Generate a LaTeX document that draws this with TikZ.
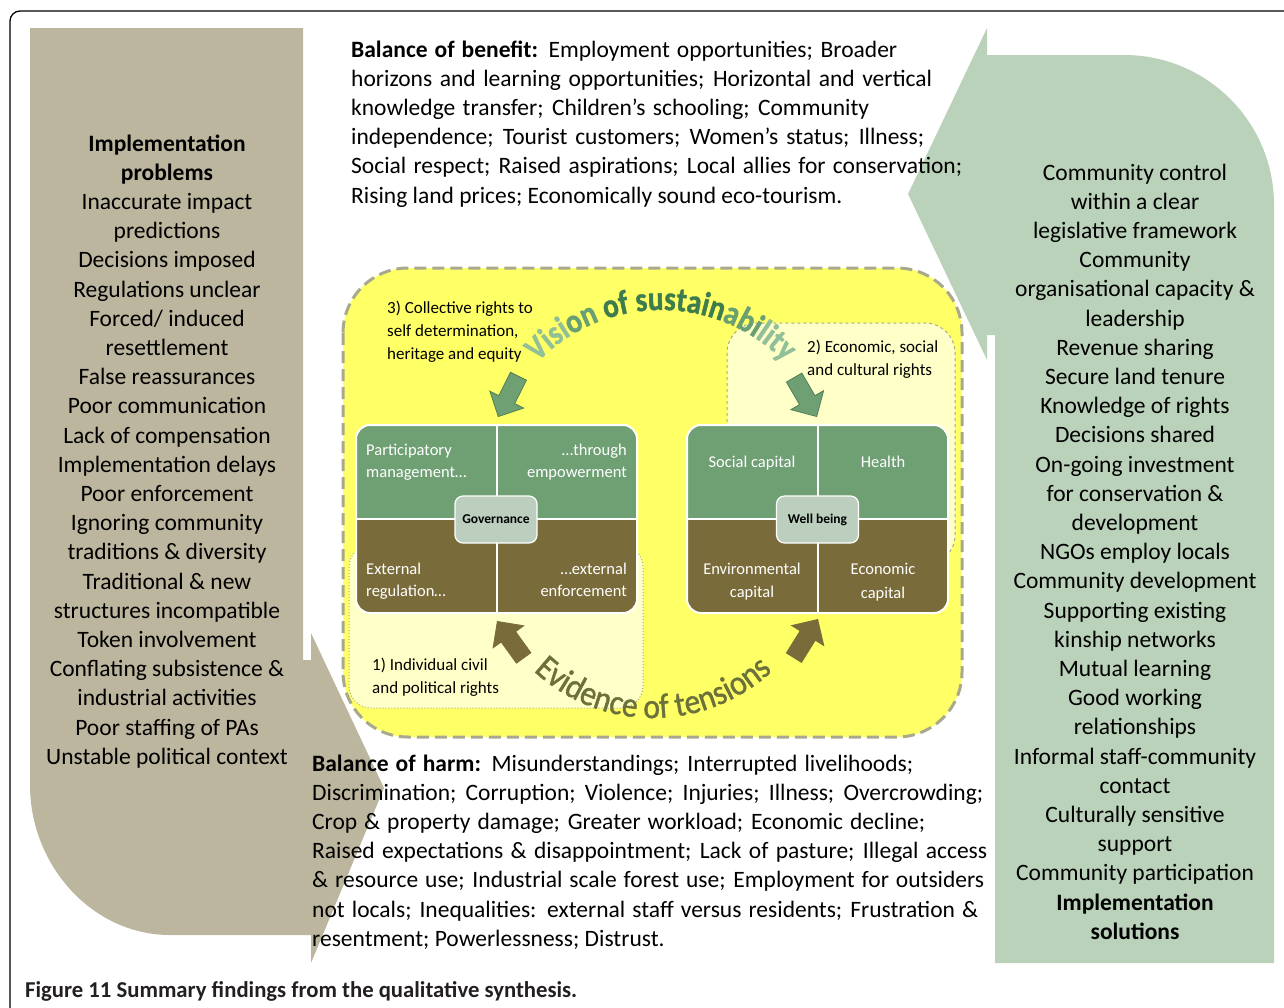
\documentclass[tikz,border=0pt]{standalone}
\usepackage{fontspec}
\setmainfont{Carlito}
\newfontfamily\condfam{Carlito}[FakeStretch=0.86, FakeBold=1.2]
\newfontfamily\evfam{Carlito}[FakeStretch=0.9, FakeBold=1.2]
\usetikzlibrary{decorations.text,shapes.arrows}
\definecolor{tanfill}{RGB}{188,182,158}
\definecolor{sagefill}{RGB}{186,209,186}
\definecolor{yel}{RGB}{255,255,102}
\definecolor{lightyel}{RGB}{255,255,200}
\definecolor{dashgray}{RGB}{168,168,140}
\definecolor{boxgreen}{RGB}{111,160,116}
\definecolor{boxolive}{RGB}{122,108,58}
\definecolor{labfill}{RGB}{188,207,190}
\definecolor{arrgreendark}{RGB}{80,125,85}
\definecolor{vca}{RGB}{145,192,152}
\definecolor{vcb}{RGB}{105,160,115}
\definecolor{vcc}{RGB}{62,124,78}
\definecolor{evcol}{RGB}{108,112,58}
\definecolor{capgray}{RGB}{35,31,32}
\newcommand\visfont{\condfam\bfseries\fontsize{34}{34}\selectfont}
\newcommand\evfont{\evfam\fontsize{35}{35}\selectfont}
\tikzset{
  bodytext/.style={font=\fontsize{23.5}{29.2}\selectfont, inner sep=0, anchor=base west},
  coltext/.style={font=\fontsize{23.5}{29.2}\selectfont, inner sep=0, anchor=base},
  labtext/.style={font=\fontsize{17}{20}\selectfont, inner sep=0, anchor=base west},
  boxtext/.style={font=\fontsize{16.5}{20}\selectfont, inner sep=0, text=white},
  hub/.style={draw=white, line width=1.2, fill=labfill, rounded corners=8, minimum width=82, minimum height=47, inner sep=0, font=\bfseries\fontsize{13.5}{15}\selectfont},
  blockarrow/.style={single arrow, anchor=tip, minimum height=45, minimum width=37, single arrow head extend=10, inner sep=0, line width=0.8},
  region/.style={fill=lightyel, draw=dashgray, line width=1}
}
\begin{document}
\begin{tikzpicture}[x=1pt,y=-1pt]
\useasboundingbox (0,0) rectangle (1284,1007);
% frame
\draw[line width=1.3, rounded corners=10] (10,11) rectangle (1320,1030);
% left shape
\fill[tanfill] (30,28) -- (303,28) -- (303,660) -- (311,660) -- (311,935) -- (170,935)
  .. controls (92,935) and (30,865) .. (30,785) -- cycle;
\fill[tanfill] (311,633) -- (384,788) -- (311,963) -- cycle;
% right shape
\fill[sagefill] (987,55) -- (1124,55) .. controls (1207,55) and (1274,122) .. (1274,205)
  -- (1274,963) -- (995,963) -- (995,335) -- (987,335) -- cycle;
\fill[sagefill] (987,28) -- (908,194) -- (987,360) -- cycle;
% yellow region
\filldraw[fill=yel, draw=dashgray, line width=3, dash pattern=on 12 off 6, rounded corners=65] (343,268) rectangle (962,737);
\filldraw[region, dashed, rounded corners=30] (727,323) rectangle (955,565);
\filldraw[region, dotted, rounded corners=22] (349,545) rectangle (643,708);
% left box
\begin{scope}
\clip[rounded corners=14] (356,425) rectangle (637,613);
\fill[boxgreen] (356,425) rectangle (637,519);
\fill[boxolive] (356,519) rectangle (637,613);
\end{scope}
\draw[white, line width=1.5] (356,519) -- (637,519);
\draw[white, line width=2] (496.5,425) -- (496.5,613);
\draw[white, line width=2, rounded corners=14] (356,425) rectangle (637,613);
% right box
\begin{scope}
\clip[rounded corners=14] (687,425) rectangle (948,613);
\fill[boxgreen] (687,425) rectangle (948,519);
\fill[boxolive] (687,519) rectangle (948,613);
\end{scope}
\draw[white, line width=1.5] (687,519) -- (948,519);
\draw[white, line width=2] (818,425) -- (818,613);
\draw[white, line width=2, rounded corners=14] (687,425) rectangle (948,613);
% hubs
\node[hub] (gov) at (496,519.5) {Governance};
\node[hub] (well) at (817.5,519.5) {Well being};
% box texts
\node[boxtext, anchor=base west] (pm1) at (366,455) {Participatory};
\node[boxtext, anchor=base west] (pm2) at (366,477) {management…};
\node[boxtext, anchor=base east] (te1) at (627,455) {…through};
\node[boxtext, anchor=base east] (te2) at (627,477) {empowerment};
\node[boxtext, anchor=base west] (er1) at (366,574) {External};
\node[boxtext, anchor=base west] (er2) at (366,596) {regulation…};
\node[boxtext, anchor=base east] (ee1) at (627,574) {…external};
\node[boxtext, anchor=base east] (ee2) at (627,596) {enforcement};
\node[boxtext, anchor=base] (sc) at (752,467) {Social capital};
\node[boxtext, anchor=base] (he) at (883,467) {Health};
\node[boxtext, anchor=base] (ec1) at (752,574) {Environmental};
\node[boxtext, anchor=base] (ec2) at (752,597) {capital};
\node[boxtext, anchor=base] (eo1) at (883,574) {Economic};
\node[boxtext, anchor=base] (eo2) at (883,598) {capital};
% rights labels
\node[labtext] (r3a) at (387,313) {3) Collective rights to};
\node[labtext] (r3b) at (387,336) {self determination,};
\node[labtext] (r3c) at (387,359) {heritage and equity};
\node[labtext] (r2a) at (807,352) {2) Economic, social};
\node[labtext] (r2b) at (807,375) {and cultural rights};
\node[labtext] (r1a) at (372,670) {1) Individual civil};
\node[labtext] (r1b) at (372,693) {and political rights};
% arrows
\node[blockarrow, fill=boxgreen, draw=arrgreendark, rotate=-116.6] (ga1) at (498,417) {\rule{0pt}{17pt}};
\node[blockarrow, fill=boxgreen, draw=arrgreendark, rotate=-59.9] (ga2) at (817,417) {\rule{0pt}{17pt}};
\node[blockarrow, fill=boxolive, draw=boxolive, rotate=125.8] (oa1) at (497,621) {\rule{0pt}{17pt}};
\node[blockarrow, fill=boxolive, draw=boxolive, rotate=58.1] (oa2) at (818,619) {\rule{0pt}{17pt}};
% curved texts
\path[decorate, decoration={text along path, text align=center,
  text={|\visfont\color{vca}|Visi|\visfont\color{vcb}|on |\visfont\color{vcc}|of sustain|\visfont\color{vcb}|abi|\visfont\color{vca}|lity}}]
  ([shift={(200:172)}]661,482) arc[start angle=200, end angle=340, radius=172];
\path[decorate, decoration={text along path, text align=center,
  text={|\evfont\color{evcol}|Evidence of tensions}}]
  ([shift={(160:175)}]653,543) arc[start angle=160, end angle=20, radius=175];
% top paragraph
\node[bodytext] (b1) at (351,57) {\makebox[546pt][s]{\textbf{Balance of benefit:} Employment opportunities; Broader}};
\node[bodytext] (b2) at (351,86.2) {\makebox[581pt][s]{horizons and learning opportunities; Horizontal and vertical}};
\node[bodytext] (b3) at (351,115.4) {\makebox[518pt][s]{knowledge transfer; Children’s schooling; Community}};
\node[bodytext] (b4) at (351,144.6) {\makebox[573pt][s]{independence; Tourist customers; Women’s status; Illness;}};
\node[bodytext] (b5) at (351,173.8) {\makebox[611pt][s]{Social respect; Raised aspirations; Local allies for conservation;}};
\node[bodytext] (b6) at (351,203) {Rising land prices; Economically sound eco-tourism.};
% bottom paragraph
\node[bodytext] (h1) at (312,771) {\makebox[601pt][s]{\textbf{Balance of harm:} Misunderstandings; Interrupted livelihoods;}};
\node[bodytext] (h2) at (312,800.2) {\makebox[671pt][s]{Discrimination; Corruption; Violence; Injuries; Illness; Overcrowding;}};
\node[bodytext] (h3) at (312,829.4) {\makebox[613pt][s]{Crop \& property damage; Greater workload; Economic decline;}};
\node[bodytext] (h4) at (312,858.6) {\makebox[675pt][s]{Raised expectations \& disappointment; Lack of pasture; Illegal access}};
\node[bodytext] (h5) at (312,887.8) {\makebox[672pt][s]{\& resource use; Industrial scale forest use; Employment for outsiders}};
\node[bodytext] (h6) at (312,917) {\makebox[666pt][s]{not locals; Inequalities: external staff versus residents; Frustration \&}};
\node[bodytext] (h7) at (312,946.2) {resentment; Powerlessness; Distrust.};
% left column
\foreach \t [count=\i] in {{\bfseries Implementation},{\bfseries problems},{Inaccurate impact},{predictions},{Decisions imposed},{Regulations unclear},{Forced/ induced},{resettlement},{False reassurances},{Poor communication},{Lack of compensation},{Implementation delays},{Poor enforcement},{Ignoring community},{traditions \& diversity},{Traditional \& new},{structures incompatible},{Token involvement},{Conflating subsistence \&},{industrial activities},{Poor staffing of PAs},{Unstable political context}}
  \node[coltext] (L\i) at (167,{151+29.2*(\i-1)}) {\t};
% right column
\foreach \t [count=\i] in {{Community control},{within a clear},{legislative framework},{Community},{organisational capacity \&},{leadership},{Revenue sharing},{Secure land tenure},{Knowledge of rights},{Decisions shared},{On-going investment},{for conservation \&},{development},{NGOs employ locals},{Community development},{Supporting existing},{kinship networks},{Mutual learning},{Good working},{relationships},{Informal staff-community},{contact},{Culturally sensitive},{support},{Community participation},{\bfseries Implementation},{\bfseries solutions}}
  \node[coltext] (R\i) at (1135,{180+29.2*(\i-1)}) {\t};
% caption
\node[anchor=base west, inner sep=0, text=capgray, font=\bfseries\fontsize{22.7}{26}\selectfont] (cap) at (25,997) {Figure 11 Summary findings from the qualitative synthesis.};
\end{tikzpicture}
\end{document}
